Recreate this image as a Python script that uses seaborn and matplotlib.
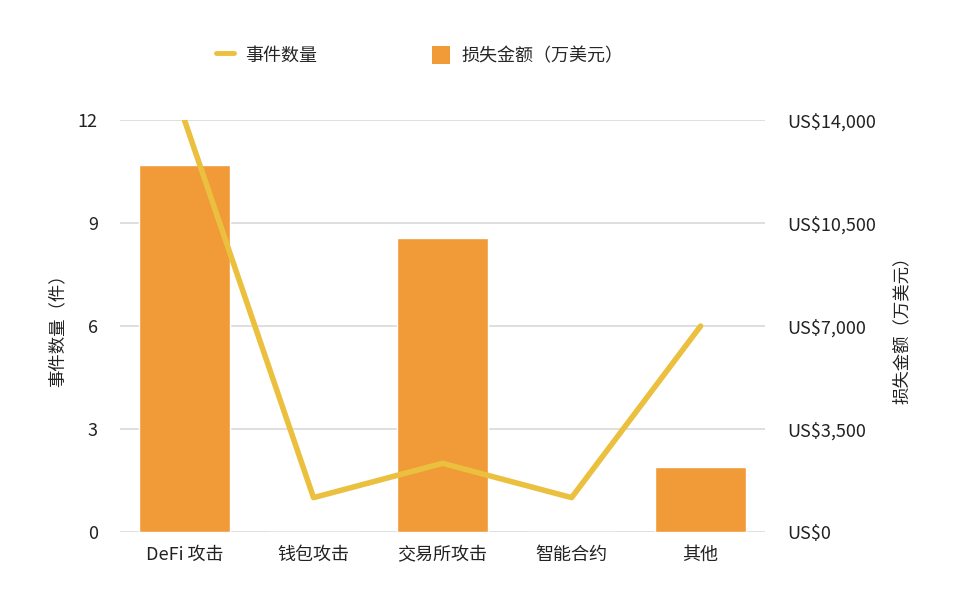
import numpy as np
import pandas as pd
import matplotlib
matplotlib.use('Agg')
import matplotlib.pyplot as plt
import seaborn as sns
from matplotlib.ticker import FuncFormatter
from matplotlib.lines import Line2D
from matplotlib.patches import Patch

# Data
categories = ['DeFi 攻击', '钱包攻击', '交易所攻击', '智能合约', '其他']
counts = [12, 1, 2, 1, 6]
losses = [12470, 0, 9990, 0, 2200]

BAR_COLOR = '#F09A38'
LINE_COLOR = '#EBC03F'

sns.set_theme(style='white')
plt.rcParams['font.family'] = ['Noto Sans CJK SC', 'DejaVu Sans']

fig = plt.figure(figsize=(9.6, 5.95), dpi=100)
ax_bar = fig.add_axes([0.125, 0.106, 0.672, 0.692])
ax_line = ax_bar.twinx()

# Bars on the right axis (amount)
sns.barplot(x=categories, y=losses, ax=ax_bar, color=BAR_COLOR,
            saturation=1, width=0.71)
ax_bar.set_ylim(0, 14000)
ax_bar.set_yticks([0, 3500, 7000, 10500, 14000])
ax_bar.yaxis.set_major_formatter(FuncFormatter(lambda v, p: f'US${v:,.0f}'))
ax_bar.yaxis.tick_right()
ax_bar.yaxis.set_label_position('right')
ax_bar.set_ylabel('损失金额（万美元）', fontsize=12.5, color='#222222', labelpad=12)
ax_bar.grid(axis='y', color='#D9D9D9', linewidth=1.2)
ax_bar.set_axisbelow(True)

# Line on the left axis (count)
sns.pointplot(x=categories, y=counts, ax=ax_line, color=LINE_COLOR,
              markers='', linewidth=4)
ax_line.set_ylim(0, 12)
ax_line.set_yticks([0, 3, 6, 9, 12])
ax_line.yaxis.tick_left()
ax_line.yaxis.set_label_position('left')
ax_line.set_ylabel('事件数量（件）', fontsize=12.5, color='#222222', labelpad=8)
ax_line.set_zorder(ax_bar.get_zorder() + 1)
ax_line.patch.set_visible(False)
ax_line.set_xlim(-0.5, 4.5)

for ax in (ax_bar, ax_line):
    for s in ax.spines.values():
        s.set_visible(False)
    ax.tick_params(axis='both', length=0, labelsize=13, colors='#222222')
    ax.tick_params(axis='y', pad=16)
    ax.tick_params(axis='x', pad=10)
    ax.set_xlabel('')

# Legend
handles = [Line2D([0], [0], color=LINE_COLOR, linewidth=3.5),
           Patch(facecolor=BAR_COLOR, edgecolor='none')]
fig.legend(handles, ['事件数量', '损失金额（万美元）'], loc='center',
           bbox_to_anchor=(0.437, 0.907), ncol=2, frameon=False,
           fontsize=13, handlelength=1.0, handleheight=1.2,
           columnspacing=6.4, handletextpad=0.6)

fig.savefig('out.png', dpi=100, facecolor='white')
